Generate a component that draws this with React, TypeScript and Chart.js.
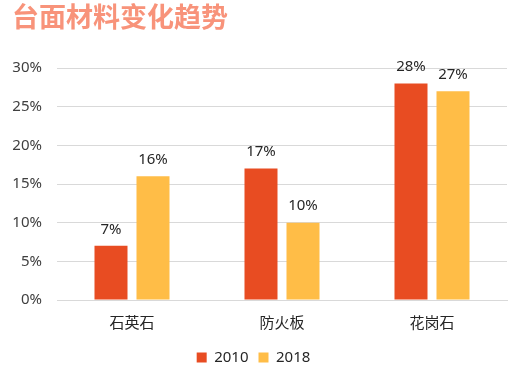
import React, { useEffect, useRef } from "react";
import { Chart, registerables } from "chart.js";

Chart.register(...registerables);

const title = "台面材料变化趋势";
const categories = ["石英石", "防火板", "花岗石"];
const seriesNames = ["2010", "2018"];
const values2010 = [7, 17, 28];
const values2018 = [16, 10, 27];
const colors = ["#E84C22", "#FFBD47"];
const yTicks = [0, 5, 10, 15, 20, 25, 30];

const FONT = '"Noto Sans", "Noto Sans CJK SC", sans-serif';

const labelPlugin = {
  id: "barLabels",
  afterDatasetsDraw(chart: any) {
    const ctx = chart.ctx;
    ctx.save();
    ctx.font = `15px ${FONT}`;
    ctx.fillStyle = "#262626";
    ctx.textAlign = "center";
    ctx.textBaseline = "bottom";
    chart.data.datasets.forEach((ds: any, i: number) => {
      const meta = chart.getDatasetMeta(i);
      meta.data.forEach((bar: any, j: number) => {
        ctx.fillText(ds.data[j] + "%", bar.x, bar.y - 9);
      });
    });
    ctx.restore();
  },
};

export default function App() {
  const ref = useRef<HTMLCanvasElement>(null);
  useEffect(() => {
    const chart = new Chart(ref.current!, {
      type: "bar",
      data: {
        labels: categories,
        datasets: [
          { label: seriesNames[0], data: values2010, backgroundColor: colors[0] },
          { label: seriesNames[1], data: values2018, backgroundColor: colors[1] },
        ],
      },
      options: {
        animation: false,
        responsive: false,
        maintainAspectRatio: false,
        layout: { padding: { top: 68, left: 0, right: 3, bottom: 0 } },
        datasets: { bar: { categoryPercentage: 0.56, barPercentage: 0.786 } } as any,
        scales: {
          x: {
            grid: { display: false },
            border: { display: true, color: "#d9d9d9" },
            ticks: { color: "#262626", font: { size: 15, family: FONT }, padding: 7 },
          },
          y: {
            min: 0,
            max: 30,
            afterFit: (s: any) => { s.width = 57; },
            afterBuildTicks: (s: any) => { s.ticks = yTicks.map((v) => ({ value: v })); },
            grid: { color: "#d9d9d9", drawTicks: false },
            border: { display: false },
            ticks: {
              color: "#404040",
              font: { size: 15, family: FONT },
              padding: 15,
              callback: (v: any) => v + "%",
            },
          },
        },
        plugins: {
          legend: {
            position: "bottom",
            labels: {
              boxWidth: 10,
              boxHeight: 10,
              color: "#262626",
              font: { size: 15, family: FONT },
              padding: 10,
            },
          },
          tooltip: { enabled: false },
        },
      },
      plugins: [labelPlugin],
    });
    return () => chart.destroy();
  }, []);
  return (
    <div style={{ position: "absolute", left: 0, top: 0, width: 510, height: 375, background: "#fff" }}>
      <div
        style={{
          position: "absolute",
          left: 12,
          top: 0,
          fontFamily: '"Noto Sans CJK SC", sans-serif',
          fontWeight: 700,
          fontSize: 27,
          color: "#F8937A",
          lineHeight: "32px",
        }}
      >
        {title}
      </div>
      <canvas ref={ref} width={510} height={375} style={{ display: "block" }} />
    </div>
  );
}
